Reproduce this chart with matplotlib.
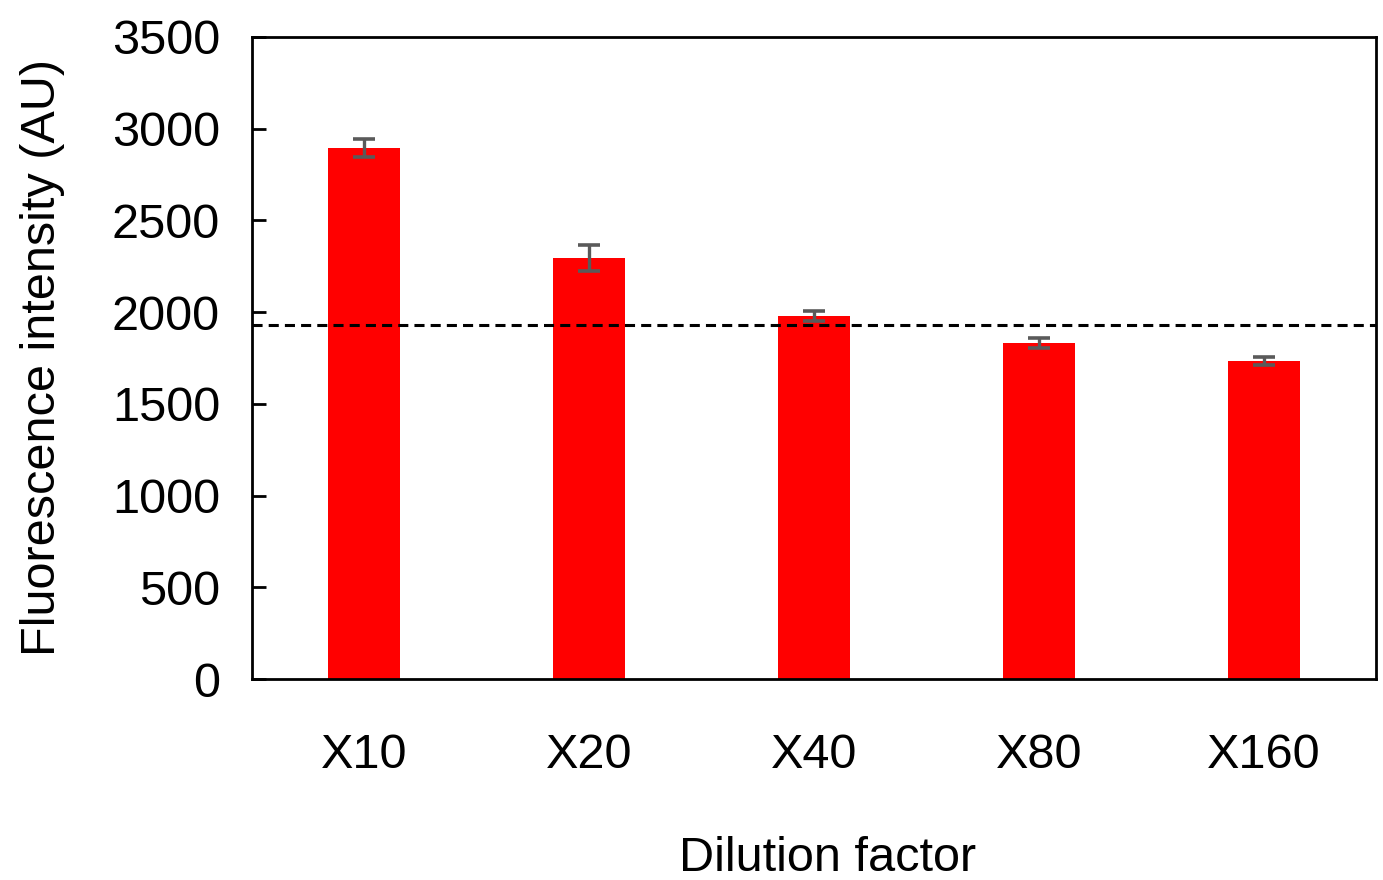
import matplotlib
matplotlib.use('Agg')
import matplotlib.pyplot as plt

# data
categories = ['X10', 'X20', 'X40', 'X80', 'X160']
intensity = [2896, 2295, 1978, 1831, 1736]
errors = [48, 70, 28, 26, 22]
threshold = 1928
yticks = [0, 500, 1000, 1500, 2000, 2500, 3000, 3500]

plt.rcParams['font.family'] = ['Liberation Sans', 'DejaVu Sans']

fig = plt.figure(figsize=(13.83, 8.8), dpi=100)
ax = fig.add_axes([0.1822, 0.2284, 0.8128, 0.7296])

x = range(len(categories))
ax.bar(x, intensity, width=0.32, color='#ff0000', zorder=2)
ax.errorbar(x, intensity, yerr=errors, fmt='none', ecolor='#5a5a5a',
            elinewidth=2.4, capsize=8, capthick=2.6, zorder=3)
ax.axhline(threshold, color='black', linestyle=(0, (3.3, 2)), linewidth=2.2, zorder=4)

ax.set_xlim(-0.5, len(categories) - 0.5)
ax.set_ylim(0, 3500)
ax.set_yticks(yticks)
ax.set_xticks(list(x))
ax.set_xticklabels(categories)

for s in ax.spines.values():
    s.set_linewidth(2.0)
    s.set_color('black')

ax.tick_params(axis='y', direction='in', length=10, width=2, labelsize=35, pad=23)
ax.tick_params(axis='x', direction='in', length=8, width=1.5, labelsize=35, pad=39)

ax.set_ylabel('Fluorescence intensity (AU)', fontsize=35, labelpad=34)
ax.set_xlabel('Dilution factor', fontsize=35, labelpad=30)
ax.xaxis.set_label_coords(0.512, -0.245)

fig.savefig('out.png', dpi=100)
